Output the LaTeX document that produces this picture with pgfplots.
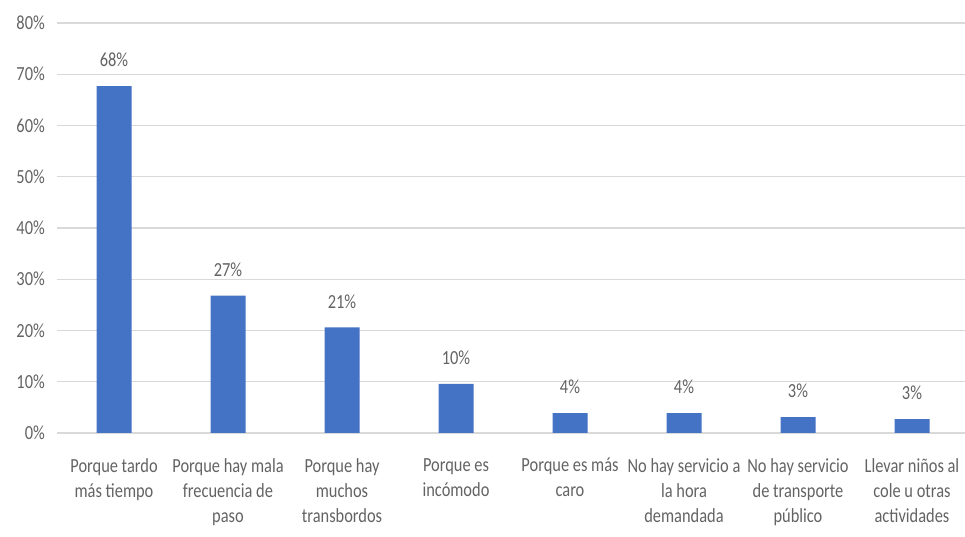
\documentclass[border=0pt]{standalone}
\usepackage{pgfplots}
\pgfplotsset{compat=1.18}
\usepackage{fontspec}
\setmainfont{Carlito}[FakeStretch=0.82]
\definecolor{barblue}{HTML}{4472C4}
\definecolor{txt}{HTML}{636363}
\definecolor{gridc}{HTML}{D9D9D9}
\begin{document}
\begin{tikzpicture}
\path[use as bounding box] (0,0) rectangle (965pt,537pt);
\begin{axis}[
  at={(57pt,104pt)}, anchor=south west,
  scale only axis, width=908pt, height=410pt,
  xmin=-0.5, xmax=7.465, ymin=0, ymax=80,
  ybar, bar width=35pt,
  axis line style={draw=none},
  ymajorgrids, grid style={gridc, line width=1.2pt},
  ytick={0,10,...,80},
  yticklabel={\pgfmathprintnumber{\tick}\%},
  xtick={0,...,7},
  xticklabels={{Porque tardo\\más tiempo},{Porque hay mala\\frecuencia de\\paso},{Porque hay\\muchos\\transbordos},{Porque es\\incómodo},{Porque es más\\caro},{No hay servicio a\\la hora\\demandada},{No hay servicio\\de transporte\\público},{Llevar niños al\\cole u otras\\actividades}},
  major tick length=0pt,
  tick label style={font=\fontsize{20}{25}\selectfont, text=txt},
  xticklabel style={align=center, anchor=north, inner sep=0pt, yshift=-25pt},
  yticklabel style={anchor=east, inner sep=0pt, xshift=-12pt},
  /pgf/number format/assume math mode=true,
  nodes near coords={\pgfmathprintnumber[fixed,precision=0]{\pgfplotspointmeta}\%},
  nodes near coords style={font=\fontsize{20}{25}\selectfont, text=txt, anchor=south, inner sep=0pt, yshift=19pt},
  clip=false,
]
\addplot[fill=barblue, draw=none] coordinates {(0,67.7) (1,26.8) (2,20.6) (3,9.6) (4,3.9) (5,3.9) (6,3.1) (7,2.7)};
\end{axis}
\end{tikzpicture}
\end{document}
